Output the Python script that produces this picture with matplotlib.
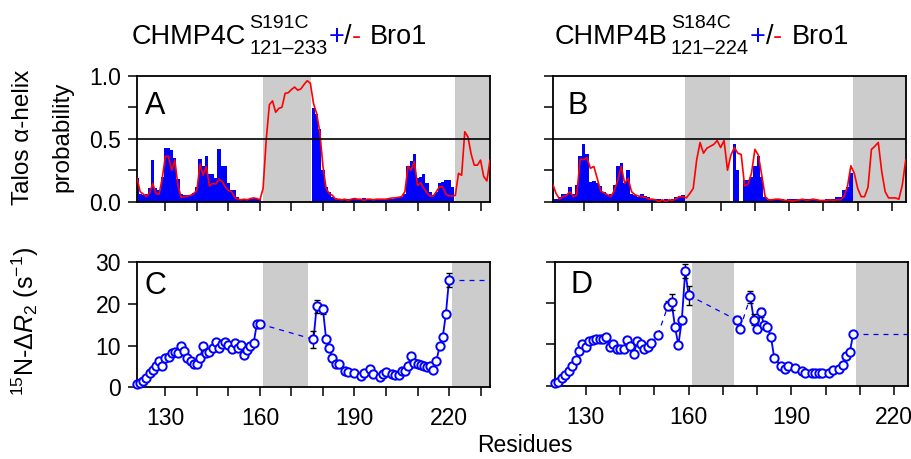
import numpy as np
import matplotlib.pyplot as plt

plt.rcParams['font.family'] = ['Liberation Sans', 'DejaVu Sans']
plt.rcParams['mathtext.fontset'] = 'custom'
plt.rcParams['mathtext.rm'] = 'Liberation Sans'
plt.rcParams['mathtext.it'] = 'Liberation Sans:italic'

W, H = 912, 459

# ---- Talos helix probability, CHMP4C (red line = -Bro1, blue bars = +Bro1)
talos_4c_free_res = np.arange(121, 234)
talos_4c_free = [
    0.185, 0.08, 0.06, 0.04, 0.07, 0.145, 0.065, 0.06, 0.185, 0.36,
    0.36, 0.25, 0.33, 0.13, 0.035, 0.04, 0.045, 0.05, 0.065, 0.09,
    0.30, 0.21, 0.28, 0.125, 0.145, 0.14, 0.18, 0.16, 0.12, 0.09,
    0.08, 0.035, 0.02, 0.015, 0.02, 0.015, 0.025, 0.03, 0.025, 0.015,
    0.105, 0.49, 0.77, 0.80, 0.71, 0.74, 0.75, 0.86, 0.865, 0.89,
    0.91, 0.885, 0.895, 0.93, 0.96, 0.94, 0.78, 0.70, 0.555, 0.28,
    0.105, 0.065, 0.05, 0.02, 0.02, 0.015, 0.02, 0.01, 0.02, 0.025,
    0.02, 0.02, 0.01, 0.02, 0.02, 0.015, 0.02, 0.02, 0.02, 0.02,
    0.025, 0.03, 0.03, 0.035, 0.04, 0.08, 0.28, 0.25, 0.32, 0.13,
    0.15, 0.105, 0.07, 0.045, 0.045, 0.08, 0.12, 0.115, 0.06, 0.045,
    0.045, 0.05, 0.225, 0.21, 0.555, 0.515, 0.38, 0.29, 0.29, 0.33,
    0.2, 0.165, 0.33]
talos_4c_bound_res = list(range(121, 161)) + list(range(177, 222))
talos_4c_bound = [
    0.185, 0.06, 0.05, 0.06, 0.105, 0.33, 0.105, 0.09, 0.2, 0.43,
    0.43, 0.41, 0.35, 0.18, 0.06, 0.05, 0.05, 0.055, 0.07, 0.12,
    0.34, 0.28, 0.36, 0.22, 0.22, 0.19, 0.42, 0.28, 0.28, 0.15,
    0.09, 0.09, 0.04, 0.02, 0.02, 0.02, 0.025, 0.03, 0.03, 0.02,
    0.74, 0.70, 0.58, 0.25, 0.12, 0.08, 0.04, 0.03, 0.02, 0.02,
    0.02, 0.02, 0.025, 0.02, 0.02, 0.025, 0.03, 0.02, 0.02, 0.02,
    0.025, 0.025, 0.02, 0.02, 0.02, 0.025, 0.03, 0.03, 0.04, 0.065,
    0.28, 0.32, 0.38, 0.185, 0.2, 0.22, 0.15, 0.08, 0.05, 0.08,
    0.15, 0.16, 0.17, 0.17, 0.12]

# ---- Talos helix probability, CHMP4B
talos_4b_free_res = np.arange(121, 225)
talos_4b_free = [
    0.14, 0.065, 0.02, 0.04, 0.05, 0.08, 0.04, 0.05, 0.335, 0.335,
    0.35, 0.265, 0.28, 0.185, 0.085, 0.07, 0.055, 0.04, 0.09, 0.17,
    0.28, 0.145, 0.185, 0.08, 0.055, 0.045, 0.04, 0.035, 0.02, 0.02,
    0.015, 0.0, 0.015, 0.0, 0.015, 0.01, 0.025, 0.04, 0.04, 0.03,
    0.065, 0.105, 0.33, 0.47, 0.385, 0.425, 0.44, 0.455, 0.485, 0.43,
    0.485, 0.25, 0.37, 0.43, 0.385, 0.375, 0.125, 0.14, 0.225, 0.415,
    0.37, 0.21, 0.04, 0.015, 0.015, 0.02, 0.02, 0.015, 0.01, 0.01,
    0.005, 0.01, 0.015, 0.02, 0.01, 0.015, 0.02, 0.015, 0.01, 0.01,
    0.01, 0.015, 0.01, 0.015, 0.015, 0.04, 0.12, 0.285, 0.225, 0.105,
    0.04, 0.04, 0.115, 0.415, 0.44, 0.47, 0.24, 0.08, 0.03, 0.03,
    0.03, 0.02, 0.13, 0.33]
talos_4b_bound_res = list(range(121, 160)) + [174, 175] + list(range(177, 209))
talos_4b_bound = [
    0.14, 0.025, 0.04, 0.06, 0.06, 0.12, 0.065, 0.13, 0.36, 0.455,
    0.375, 0.16, 0.165, 0.145, 0.125, 0.08, 0.05, 0.06, 0.13, 0.28,
    0.31, 0.15, 0.255, 0.065, 0.05, 0.04, 0.06, 0.045, 0.035, 0.02,
    0.02, 0.02, 0.015, 0.02, 0.015, 0.02, 0.04, 0.045, 0.055,
    0.455, 0.25,
    0.17, 0.17, 0.2, 0.28, 0.36, 0.2, 0.04, 0.015, 0.02, 0.02,
    0.015, 0.02, 0.015, 0.02, 0.02, 0.02, 0.015, 0.02, 0.025, 0.025,
    0.02, 0.02, 0.015, 0.015, 0.02, 0.02, 0.02, 0.04, 0.04, 0.09,
    0.12, 0.225]

# ---- 15N delta R2, CHMP4C
dr2_4c_res = list(range(121, 161)) + [
    177, 178, 180, 181, 182, 183, 184, 185, 187, 188, 190, 192, 193, 195,
    196, 198, 199, 200, 202, 203, 204, 205, 206, 207, 208, 209, 210, 211,
    212, 213, 214, 215, 216, 217, 218, 219, 220]
dr2_4c = [
    0.8, 1.1, 1.6, 2.3, 3.5, 4.2, 5.0, 6.2, 5.1, 7.0,
    7.2, 8.3, 8.5, 8.2, 9.8, 8.6, 7.1, 6.4, 5.6, 5.6,
    7.0, 9.9, 8.3, 8.5, 9.4, 10.9, 9.4, 10.3, 10.9, 10.2,
    9.3, 10.6, 9.4, 10.2, 7.7, 9.0, 9.8, 10.6, 15.1, 15.2,
    11.5, 19.4, 18.7, 11.6, 9.5, 7.0, 5.5, 5.5, 3.9, 3.6, 3.4, 2.7, 3.4, 4.5,
    3.2, 2.4, 3.2, 3.7, 3.2, 2.9, 2.9, 4.0, 3.9, 5.1, 7.6, 5.8, 5.6, 5.4,
    5.1, 4.8, 5.1, 4.1, 6.4, 9.8, 12.0, 17.6, 25.8]
dr2_4c_err_res = [177, 178, 180, 219, 220]
dr2_4c_err = [1.95, 1.6, 1.1, 0.75, 1.7]
dr2_4c_dashed_after = [160]

# ---- 15N delta R2, CHMP4B
dr2_4b_res = [
    121, 122, 123, 124, 125, 126, 127, 128, 129, 130, 131, 132, 133, 134,
    135, 136, 137, 138, 139, 140, 141, 142, 143, 144, 145, 146, 147, 148,
    149, 151, 154, 155, 156, 157, 158, 159, 160, 174, 175, 178, 179, 180,
    181, 182, 183, 184, 185, 187, 188, 189, 191, 193, 194, 196, 197, 198,
    199, 201, 202, 204, 205, 206, 207, 208]
dr2_4b = [
    0.56, 0.9, 1.8, 2.7, 3.6, 4.7, 6.2, 8.5, 10.2, 9.3, 10.9, 11.1, 11.2, 11.2,
    11.2, 11.7, 9.3, 10.2, 8.9, 9.0, 9.0, 11.0, 9.5, 7.7, 10.8, 10.2, 9.0, 9.3,
    10.4, 12.3, 19.4, 20.3, 14.3, 9.8, 15.9, 27.7, 21.9, 15.9, 13.8, 21.5, 16.0, 13.8,
    17.8, 14.7, 14.3, 11.8, 6.6, 4.8, 4.0, 4.7, 4.4, 3.5, 3.0, 3.1, 3.1, 3.1,
    3.1, 3.1, 3.8, 4.0, 4.9, 7.3, 8.1, 12.4]
dr2_4b_err_res = [154, 155, 159, 160, 174, 178, 179, 181]
dr2_4b_err = [1.1, 1.9, 1.7, 2.3, 1.0, 1.5, 1.3, 1.1]
dr2_4b_dashed_after = [149, 151, 160, 175]

BLUE = '#0000ff'
RED = '#ff0000'
GREY = '#cccccc'


def px_axes(left, top, right, bottom):
    return [left / W, 1 - bottom / H, (right - left) / W, (bottom - top) / H]


def style_axes(ax, xlim, xlabels, ylim, yticks, ylabels):
    ax.set_xlim(*xlim)
    ax.set_ylim(*ylim)
    xt = np.arange(130, xlim[1] + 0.01, 10)
    ax.set_xticks(xt)
    ax.set_xticklabels([str(int(t)) if (xlabels and (t - 130) % 30 == 0) else '' for t in xt])
    ax.set_yticks(yticks)
    ax.set_yticklabels(ylabels if ylabels else [''] * len(yticks))
    ax.tick_params(direction='out', length=6.5, width=1.1, labelsize=16.5)
    ax.tick_params(axis='x', pad=8)
    ax.tick_params(axis='y', pad=5)
    for s in ax.spines.values():
        s.set_linewidth(1.3)


def talos_panel(ax, spans, free_res, free, bound_res, bound, xlim, letter, lx, ylabels):
    for a, b in spans:
        ax.axvspan(a, b, color=GREY, lw=0, zorder=0)
    ax.bar(bound_res, bound, width=1.0, color=BLUE, lw=0, zorder=2)
    ax.plot(free_res, free, color=RED, lw=1.2, zorder=3)
    ax.axhline(0.5, color='black', lw=1.2, zorder=4)
    style_axes(ax, xlim, False, (0, 1), [0, 0.25, 0.5, 0.75, 1.0],
               ['0.0', '', '0.5', '', '1.0'] if ylabels else None)
    ax.text(lx, 0.70, letter, transform=ax.transAxes, fontsize=22, va='baseline')


def r2_panel(ax, spans, res, val, err_res, err, dashed_after, xlim, letter, lx, ylabels):
    res = np.asarray(res)
    val = np.asarray(val, dtype=float)
    for a, b in spans:
        ax.axvspan(a, b, color=GREY, lw=0, zorder=0)
    cut = [i + 1 for i, r in enumerate(res[:-1]) if r in dashed_after]
    for sr, sv in zip(np.split(res, cut), np.split(val, cut)):
        ax.plot(sr, sv, '-', color=BLUE, lw=1.3, zorder=3)
    for i in cut:
        ax.plot(res[i - 1:i + 1], val[i - 1:i + 1], color=BLUE, lw=0.9,
                dashes=(4, 4), zorder=2)
    ax.plot([res[-1], xlim[1]], [val[-1], val[-1]], color=BLUE, lw=0.9,
            dashes=(4, 4), zorder=2, clip_on=True)
    ev = [val[list(res).index(r)] for r in err_res]
    ax.errorbar(err_res, ev, yerr=err, fmt='none', ecolor='black', elinewidth=1.0,
                capsize=2.5, capthick=1.0, zorder=4)
    ax.plot(res, val, 'o', mfc='white', mec=BLUE, ms=6, mew=1.4, zorder=5, clip_on=False)
    style_axes(ax, xlim, True, (0, 30), [0, 10, 20, 30],
               ['0', '10', '20', '30'] if ylabels else None)
    ax.text(lx, 0.745, letter, transform=ax.transAxes, fontsize=22, va='baseline')


fig = plt.figure(figsize=(W / 100, H / 100), dpi=100)
ax_a = fig.add_axes(px_axes(137, 75.7, 490, 201.7))
ax_b = fig.add_axes(px_axes(552.7, 75.7, 905.7, 201.7))
ax_c = fig.add_axes(px_axes(137, 262.3, 490, 387.3))
ax_d = fig.add_axes(px_axes(555, 261.7, 908, 385.7))

talos_panel(ax_a, [(161, 176.3), (221.8, 240)], talos_4c_free_res, talos_4c_free,
            talos_4c_bound_res, talos_4c_bound, (121, 233), 'A', 0.022, True)
talos_panel(ax_b, [(159.7, 172.8), (208.7, 240)], talos_4b_free_res, talos_4b_free,
            talos_4b_bound_res, talos_4b_bound, (121, 224), 'B', 0.042, False)
r2_panel(ax_c, [(161, 175.2), (220.8, 240)], dr2_4c_res, dr2_4c, dr2_4c_err_res, dr2_4c_err,
         dr2_4c_dashed_after, (121, 233), 'C', 0.022, True)
r2_panel(ax_d, [(161, 173.2), (208.9, 240)], dr2_4b_res, dr2_4b, dr2_4b_err_res, dr2_4b_err,
         dr2_4b_dashed_after, (121, 224), 'D', 0.045, False)

# titles, built piece by piece so the +/- can be coloured
renderer = fig.canvas.get_renderer()


def title(x0, name, sup, sub):
    y0 = 1 - 44 / H
    t = fig.text(x0 / W, y0, name, fontsize=19.5, va='baseline')
    x = t.get_window_extent(renderer).x1 + 3
    t1 = fig.text(x / W, 1 - 28.5 / H, sup, fontsize=14, va='baseline')
    t2 = fig.text(x / W, 1 - 54.5 / H, sub, fontsize=14.5, va='baseline')
    x = max(t1.get_window_extent(renderer).x1, t2.get_window_extent(renderer).x1) + 1
    for s, c in [('+', BLUE), ('/', 'black'), ('-', RED)]:
        t = fig.text(x / W, y0, s, fontsize=19.5, color=c, va='baseline')
        x = t.get_window_extent(renderer).x1
    fig.text((x + 9) / W, y0, 'Bro1', fontsize=19.5, va='baseline')


title(132, 'CHMP4C', 'S191C', '121–233')
title(555, 'CHMP4B', 'S184C', '121–224')

fig.text(23 / W, 1 - 137 / H, 'Talos α-helix', rotation=90, fontsize=17.5,
         ha='center', va='center')
fig.text(62 / W, 1 - 137 / H, 'probability', rotation=90, fontsize=17.5,
         ha='center', va='center')
fig.text(25 / W, 1 - 321 / H, r'$^{15}$N-Δ$R_2$ (s$^{-1}$)', rotation=90, fontsize=18,
         ha='center', va='center')
fig.text(525 / W, 1 - 452 / H, 'Residues', fontsize=16.5, ha='center', va='baseline')

fig.savefig('out.png', dpi=100)
